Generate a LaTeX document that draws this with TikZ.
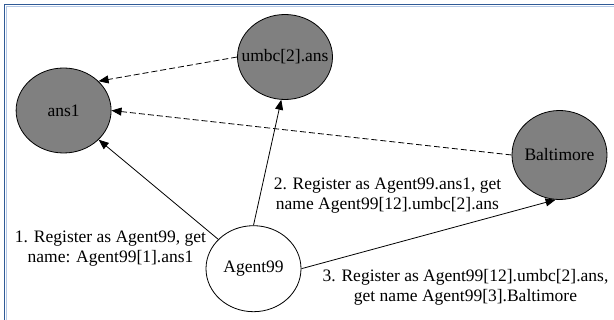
\documentclass[tikz,border=0pt]{standalone}
\usepackage{fontspec}
\setmainfont{Liberation Serif}
\usepackage{tikz}
\usetikzlibrary{shapes.geometric}
\usetikzlibrary{arrows.meta}

\definecolor{framedark}{HTML}{2F5A96}
\definecolor{framelight}{HTML}{B4C8E6}
\newcommand{\ctext}[1]{\makebox[0pt]{#1}}

\begin{document}
\begin{tikzpicture}[x=1pt,y=-1pt,
    agent/.style={ellipse,draw,thick,fill=gray,inner sep=0pt,minimum width=95pt,minimum height=85pt},
    label/.style={align=center,inner sep=0pt},
    every node/.style={font=\fontsize{17.5}{20}\selectfont}]
  \useasboundingbox (0,0) rectangle (614,320);
  \draw[framelight,line width=1.2pt] (614,6.3) -- (6.3,6.3) -- (6.3,320);
  \draw[framedark,line width=1.6pt] (614,4.5) -- (4.5,4.5) -- (4.5,320);

  \node[agent] (ans1) at (63.6,110.5) {\ctext{ans1}};
  \node[agent] (umbc) at (285,57) {\ctext{umbc[2].ans}};
  \node[agent,minimum height=89pt] (balt) at (559.5,155) {\ctext{Baltimore}};
  \node[agent,fill=white,minimum height=86pt] (a99) at (253.5,268.7) {\ctext{Agent99}};

  \path[-{Triangle[length=10pt,width=8pt]},thick]
    (a99) edge (ans1)
    (a99.north) edge (umbc.265)
    (a99.east) edge (balt.265)
    (umbc.west) edge[dash pattern=on 6pt off 3pt] (ans1.40)
    (balt.west) edge[dash pattern=on 6pt off 3pt] (ans1.east);

  \node[label] (l1) at (110.5,249) {1. Register as Agent99, get\\name: Agent99[1].ans1};
  \node[label] (l2) at (387.5,195.5) {2. Register as Agent99.ans1, get\\name Agent99[12].umbc[2].ans};
  \node[label] (l3) at (465.5,287) {3. Register as Agent99[12].umbc[2].ans,\\get name Agent99[3].Baltimore};
\end{tikzpicture}
\end{document}
